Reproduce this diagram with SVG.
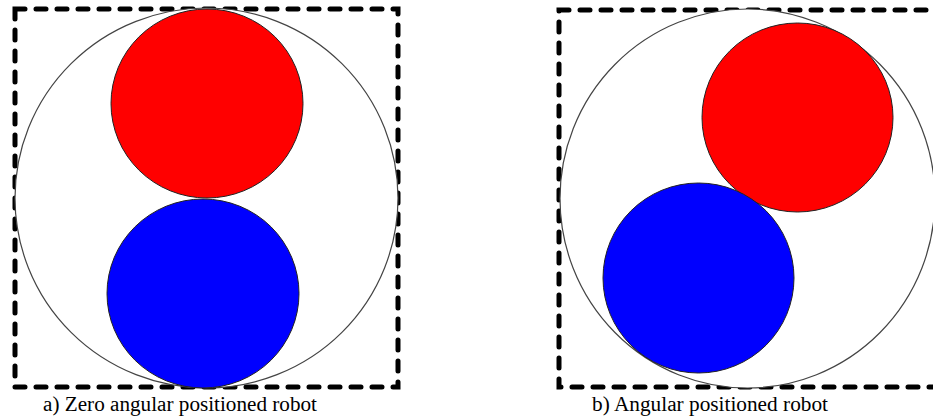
<svg xmlns="http://www.w3.org/2000/svg" width="933" height="416" viewBox="0 0 933 416">
<style>
.frame{fill:none;stroke:#000;stroke-width:5;stroke-dasharray:10 11;stroke-linecap:round}
.body{fill:#fff;stroke:#444;stroke-width:1.2}
.red{fill:#ff0000;stroke:#222;stroke-width:1}
.blue{fill:#0000ff;stroke:#222;stroke-width:1}
.cap{font-family:"Liberation Serif","Times New Roman",serif;font-size:20.5px;fill:#000}
</style>
<rect width="933" height="416" fill="#fff"/>
<g id="robot-a">
<rect class="frame" x="15" y="9" width="383" height="378"/>
<ellipse class="body" cx="206.5" cy="198" rx="191.5" ry="190"/>
<ellipse class="red" cx="207" cy="103.5" rx="96" ry="94.5"/>
<ellipse class="blue" cx="203" cy="293.5" rx="96" ry="94.5"/>
<text class="cap" x="43" y="411" textLength="274" lengthAdjust="spacingAndGlyphs">a) Zero angular positioned robot</text>
</g>
<g id="robot-b">
<rect class="frame" x="559" y="10" width="390" height="377"/>
<ellipse class="body" cx="747.5" cy="198.5" rx="187.5" ry="189.5"/>
<ellipse class="red" cx="797.5" cy="117.5" rx="95.5" ry="94.5"/>
<ellipse class="blue" cx="698.5" cy="278" rx="95.5" ry="95"/>
<text class="cap" x="592" y="411" textLength="236" lengthAdjust="spacingAndGlyphs">b) Angular positioned robot</text>
</g>
</svg>
